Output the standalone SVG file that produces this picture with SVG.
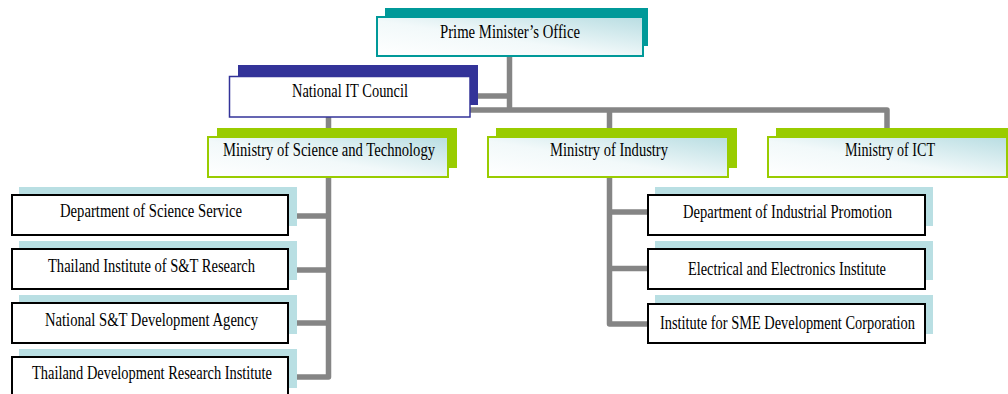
<svg xmlns="http://www.w3.org/2000/svg" width="1008" height="394" viewBox="0 0 1008 394">
<defs>
<linearGradient id="g" x1="0" y1="1" x2="1" y2="0">
<stop offset="0" stop-color="#ffffff"/>
<stop offset="0.45" stop-color="#f2f9fa"/>
<stop offset="1" stop-color="#b8dde2"/>
</linearGradient>
</defs>
<style>
.c{fill:none;stroke:#858585;stroke-width:5.5;stroke-linejoin:round}
.t{font-family:"Liberation Serif","Times New Roman",serif;font-size:19.5px;fill:#000;text-anchor:middle}
.pm{fill:url(#g);stroke:#009999;stroke-width:2}
.pms{fill:#009999}
.nc{fill:#fff;stroke:#333399;stroke-width:1.5}
.ncs{fill:#333399}
.mi{fill:url(#g);stroke:#99cc00;stroke-width:2}
.mis{fill:#99cc00}
.d{fill:#fff;stroke:#000;stroke-width:2}
.ds{fill:#b9dfe3}
</style>
<g id="connectors">
<path class="c" d="M509.5,56 V110"/>
<path class="c" d="M470,96 H509.5"/>
<path class="c" d="M328.5,137 V110 H887 V137"/>
<path class="c" d="M609.5,110 V137"/>
<path class="c" d="M328.5,177 V377 H288"/>
<path class="c" d="M288,216 H328.5"/>
<path class="c" d="M288,270 H328.5"/>
<path class="c" d="M288,323 H328.5"/>
<path class="c" d="M609.5,177 V324 H648"/>
<path class="c" d="M609.5,212 H648"/>
<path class="c" d="M609.5,268.5 H648"/>
</g>
<g id="pmo">
<rect class="pms" x="385" y="8" width="263" height="38"/>
<rect class="pm" x="377" y="17" width="266" height="39"/>
<text class="t" x="510" y="37.5" textLength="140" lengthAdjust="spacingAndGlyphs">Prime Minister’s Office</text>
</g>
<g id="nitc">
<rect class="ncs" x="238" y="65" width="240" height="40"/>
<rect class="nc" x="229.5" y="76.5" width="240.5" height="40.5"/>
<text class="t" x="350" y="97" textLength="116" lengthAdjust="spacingAndGlyphs">National IT Council</text>
</g>
<g id="most">
<rect class="mis" x="217" y="128" width="240" height="40"/>
<rect class="mi" x="208" y="137" width="240" height="40"/>
<text class="t" x="329" y="156" textLength="212" lengthAdjust="spacingAndGlyphs">Ministry of Science and Technology</text>
</g>
<g id="moi">
<rect class="mis" x="496" y="128" width="241" height="40"/>
<rect class="mi" x="488" y="137" width="240" height="40"/>
<text class="t" x="609" y="156" textLength="118" lengthAdjust="spacingAndGlyphs">Ministry of Industry</text>
</g>
<g id="mict">
<rect class="mis" x="776" y="128" width="240" height="40"/>
<rect class="mi" x="768" y="137" width="239" height="40"/>
<text class="t" x="890" y="156" textLength="90" lengthAdjust="spacingAndGlyphs">Ministry of ICT</text>
</g>
<g id="dss">
<rect class="ds" x="19" y="187" width="278" height="39"/>
<rect class="d" x="12" y="195" width="276" height="40"/>
<text class="t" x="151" y="217" textLength="182" lengthAdjust="spacingAndGlyphs">Department of Science Service</text>
</g>
<g id="tistr">
<rect class="ds" x="19" y="241" width="278" height="39"/>
<rect class="d" x="12" y="249" width="276" height="40"/>
<text class="t" x="151.5" y="272" textLength="207" lengthAdjust="spacingAndGlyphs">Thailand Institute of S&amp;T Research</text>
</g>
<g id="nstda">
<rect class="ds" x="19" y="295" width="278" height="39"/>
<rect class="d" x="12" y="303" width="276" height="40"/>
<text class="t" x="151.5" y="325.5" textLength="213" lengthAdjust="spacingAndGlyphs">National S&amp;T Development Agency</text>
</g>
<g id="tdri">
<rect class="ds" x="19" y="349" width="278" height="39"/>
<rect class="d" x="12" y="357" width="276" height="40"/>
<text class="t" x="152" y="378.5" textLength="240" lengthAdjust="spacingAndGlyphs">Thailand Development Research Institute</text>
</g>
<g id="dip">
<rect class="ds" x="655" y="187" width="278" height="39"/>
<rect class="d" x="648" y="195" width="277" height="40"/>
<text class="t" x="787.5" y="218" textLength="209" lengthAdjust="spacingAndGlyphs">Department of Industrial Promotion</text>
</g>
<g id="eei">
<rect class="ds" x="655" y="241" width="278" height="39"/>
<rect class="d" x="648" y="249" width="277" height="40"/>
<text class="t" x="787" y="274.5" textLength="198" lengthAdjust="spacingAndGlyphs">Electrical and Electronics Institute</text>
</g>
<g id="isme">
<rect class="ds" x="655" y="295" width="278" height="39"/>
<rect class="d" x="648" y="304" width="277" height="39"/>
<text class="t" x="787.5" y="328.5" textLength="255" lengthAdjust="spacingAndGlyphs">Institute for SME Development Corporation</text>
</g>
</svg>
